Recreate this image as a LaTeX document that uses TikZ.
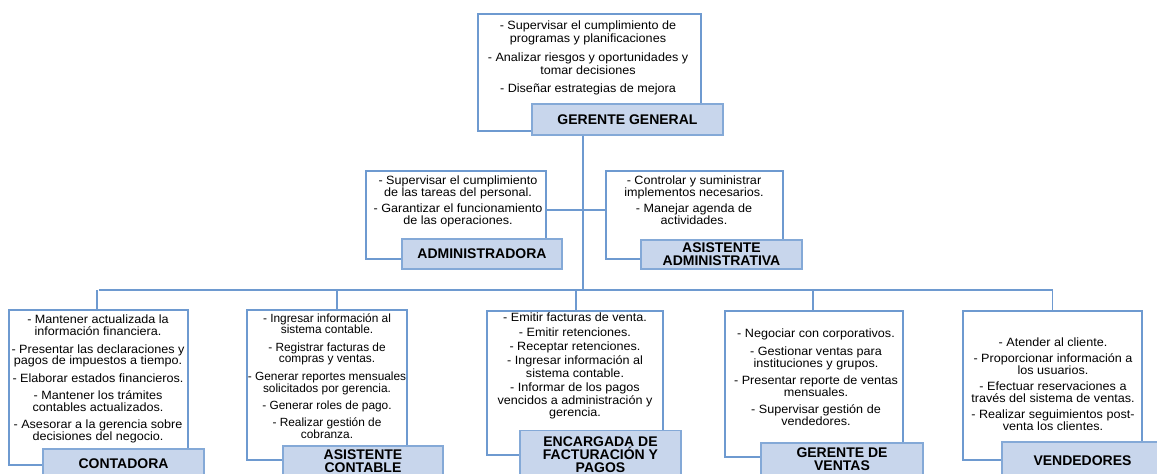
\documentclass[tikz,border=0pt]{standalone}
\usepackage{fontspec}
\setmainfont{Liberation Sans}
\newfontfamily\wideface[FakeStretch=1.05]{Liberation Sans}
\definecolor{orgline}{RGB}{110,154,208}
\definecolor{orgfill}{RGB}{200,214,236}
\begin{document}
\begin{tikzpicture}[x=0.75pt, y=-0.75pt,
  box/.style={shape=rectangle, draw=orgline, line width=1pt, fill=white, inner sep=0pt},
  tag/.style={shape=rectangle, draw=orgline!85, line width=1pt, fill=orgfill, inner sep=0pt, align=center, font=\bfseries\fontsize{10.5}{9.8}\selectfont},
  txt/.style={anchor=north, align=center, inner sep=0pt, font=\wideface\fontsize{9}{8.9}\selectfont},
  conn/.style={-, draw=orgline, line width=1.2pt}]
\useasboundingbox (0,0) rectangle (1157,474);
\clip (0,0) rectangle (1157,474);
\node[box, minimum width=167.25pt, minimum height=87.75pt] (gg) at (589.5, 72.5) {};
\node[box, minimum width=135pt, minimum height=66pt] (adm) at (456, 215) {};
\node[box, minimum width=132.75pt, minimum height=66pt] (asa) at (694.5, 215) {};
\node[box, minimum width=134.25pt, minimum height=116.25pt] (con) at (98.5, 387.5) {};
\node[box, minimum width=120pt, minimum height=112.5pt] (asc) at (327, 385) {};
\node[box, minimum width=132pt, minimum height=108pt] (enc) at (575, 383) {};
\node[box, minimum width=133.5pt, minimum height=109.5pt] (gv) at (814, 384) {};
\node[box, minimum width=134.25pt, minimum height=111.75pt] (ven) at (1052.5, 385.5) {};
\node[txt, font=\wideface\fontsize{9}{9.75}\selectfont] (gg-t) at (588, 21) {- Supervisar el cumplimiento de\\programas y planificaciones\\[4pt]- Analizar riesgos y oportunidades y\\tomar decisiones\\[4pt]- Diseñar estrategias de mejora};
\node[txt] (adm-t) at (458, 176) {- Supervisar el cumplimiento\\de las tareas del personal.\\[3.2pt]- Garantizar el funcionamiento\\de las operaciones.};
\node[txt] (asa-t) at (694, 176) {- Controlar y suministrar\\implementos necesarios.\\[3.2pt]- Manejar agenda de\\actividades.};
\node[txt] (con-t) at (98, 315) {- Mantener actualizada la\\información financiera.\\[4pt]- Presentar las declaraciones y\\pagos de impuestos a tiempo.\\[4pt]- Elaborar estados financieros.\\[4pt]- Mantener los trámites\\contables actualizados.\\[4pt]- Asesorar a la gerencia sobre\\decisiones del negocio.};
\node[txt, font=\fontsize{8.9}{8.9}\selectfont] (asc-t) at (327, 313) {- Ingresar información al\\sistema contable.\\[4pt]- Registrar facturas de\\compras y ventas.\\[4pt]- Generar reportes mensuales\\solicitados por gerencia.\\[4pt]- Generar roles de pago.\\[4pt]- Realizar gestión de\\cobranza.};
\node[txt, font=\wideface\fontsize{9}{9.4}\selectfont] (enc-t) at (575, 313) {- Emitir facturas de venta.\\[1.3pt]- Emitir retenciones.\\[1.3pt]- Receptar retenciones.\\[1.3pt]- Ingresar información al\\sistema contable.\\[1.3pt]- Informar de los pagos\\vencidos a administración y\\gerencia.};
\node[txt] (gv-t) at (816, 329) {- Negociar con corporativos.\\[4pt]- Gestionar ventas para\\instituciones y grupos.\\[4pt]- Presentar reporte de ventas\\mensuales.\\[4pt]- Supervisar gestión de\\vendedores.};
\node[txt] (ven-t) at (1053, 338) {- Atender al cliente.\\[3pt]- Proporcionar información a\\los usuarios.\\[3pt]- Efectuar reservaciones a\\través del sistema de ventas.\\[3pt]- Realizar seguimientos post-\\venta los clientes.};
\node[tag, minimum width=143.25pt, minimum height=23.25pt] (gg-l) at (627.5, 119.5) {GERENTE GENERAL};
\node[tag, minimum width=120pt, minimum height=22.5pt] (adm-l) at (482, 254) {ADMINISTRADORA};
\node[tag, minimum width=120.75pt, minimum height=21.75pt] (asa-l) at (721.5, 254.5) {ASISTENTE\\ADMINISTRATIVA};
\node[tag, minimum width=120.75pt, minimum height=22.5pt] (con-l) at (123.5, 464) {CONTADORA};
\node[tag, minimum width=120pt, minimum height=22.5pt] (asc-l) at (363, 461) {ASISTENTE\\CONTABLE};
\node[tag, minimum width=120.75pt, minimum height=36.75pt] (enc-l) at (600.5, 455) {ENCARGADA DE\\FACTURACIÓN Y\\PAGOS};
\node[tag, minimum width=121.5pt, minimum height=24.75pt] (gv-l) at (842, 459.5) {GERENTE DE\\VENTAS};
\node[tag, minimum width=120.75pt, minimum height=28.5pt] (ven-l) at (1082.5, 461) {VENDEDORES};
\coordinate (jm) at (583, 210);
\coordinate (bus) at (583, 290);
\path [conn] (bus |- gg-l.south) edge (bus);
\path [conn] (adm.east |- jm) edge (asa.west |- jm);
\path [conn] (con.north |- bus) edge (ven.north |- bus);
\foreach \n/\d in {con/-1, asc/7.5, enc/0.75, gv/-0.75, ven/0}
  \path [conn] ([xshift=\d pt]\n.north |- bus) edge ([xshift=\d pt]\n.north);
\end{tikzpicture}
\end{document}
